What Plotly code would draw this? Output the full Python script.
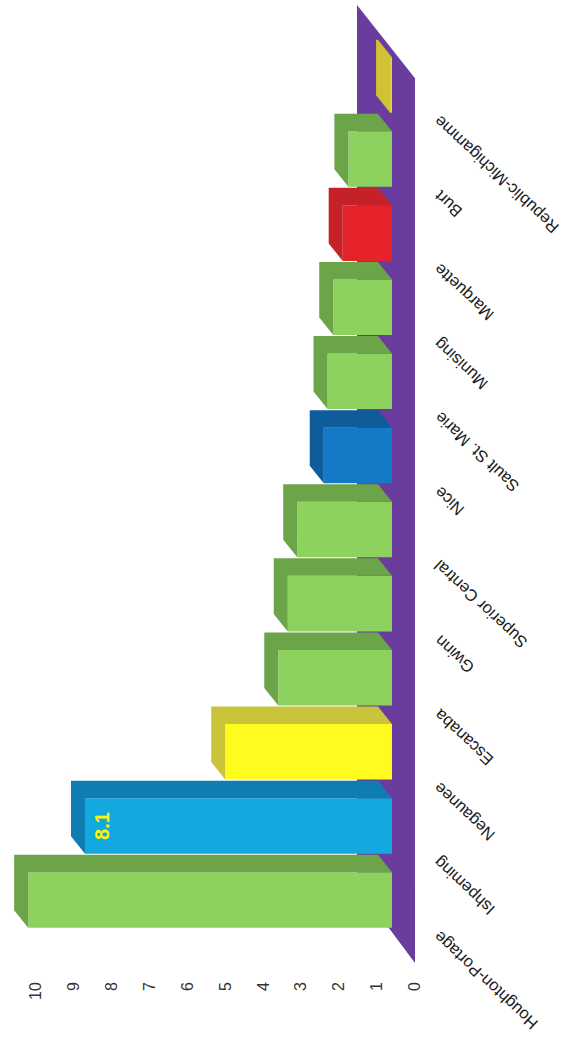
import plotly.graph_objects as go

# ---- data ----
categories = ["Houghton-Portage", "Ishpeming", "Negaunee", "Escanaba", "Gwinn",
              "Superior Central", "Nice", "Sault St. Marie", "Munising",
              "Marquette", "Burt", "Republic-Michigamme"]
values = [9.6, 8.1, 4.4, 3.0, 2.75, 2.5, 1.8, 1.7, 1.55, 1.3, 1.15, 0.05]
front_colors = ["#8DD25E", "#14A8E0", "#FFFB1E", "#8DD25E", "#8DD25E", "#8DD25E",
                "#1479C6", "#8DD25E", "#8DD25E", "#E6232A", "#8DD25E", "#E0D23A"]
side_colors = ["#6CA44A", "#0F7DB2", "#C9C43A", "#6CA44A", "#6CA44A", "#6CA44A",
               "#0F5C9C", "#6CA44A", "#6CA44A", "#C42228", "#6CA44A", "#CFC236"]
labelled = ["Ishpeming"]
value_ticks = list(range(0, 11))

# ---- styling / geometry constants ----
BAR_W = 0.75          # bar thickness (category units)
DX = 0.37             # 3D depth offset along value axis
DY = 0.236            # 3D depth offset along category axis
FLOOR_FRONT = -0.607  # floor slab front edge (value units)
FLOOR_BACK = 0.923    # floor back edge (value units)
FLOOR_LOW = (-0.85, 0.2)    # category coords of floor bottom end (front, back)
FLOOR_HIGH = (11.09, 12.08) # category coords of floor top end (front, back)
PURPLE = "#6A3C9E"
FONT = "Liberation Sans, Arial, sans-serif"

ypos = list(range(len(categories)))
h = BAR_W / 2

fig = go.Figure()

# depth faces (top strip + end cap) for each bar
for i, (v, c) in enumerate(zip(values, side_colors)):
    y = ypos[i]
    xs = [0, v, v, v + DX, v + DX, DX, 0]
    ys = [y + h, y + h, y - h, y - h + DY, y + h + DY, y + h + DY, y + h]
    fig.add_trace(go.Scatter(x=xs, y=ys, mode="lines", fill="toself",
                             fillcolor=c, line=dict(width=0), hoverinfo="skip",
                             showlegend=False))

# front faces
fig.add_trace(go.Bar(x=values, y=ypos, orientation="h", width=BAR_W, base=0,
                     marker=dict(color=front_colors, line=dict(width=0)),
                     hovertext=categories, showlegend=False))

# floor slab (below traces)
fig.add_shape(type="path", layer="below", xref="x", yref="y",
              path=(f"M {FLOOR_BACK},{FLOOR_HIGH[1]} L {FLOOR_FRONT},{FLOOR_HIGH[0]} "
                    f"L {FLOOR_FRONT},{FLOOR_LOW[0]} L {FLOOR_BACK},{FLOOR_LOW[1]} Z"),
              fillcolor=PURPLE, line=dict(width=0))

# category labels (rotated, on the right)
for i, name in enumerate(categories):
    fig.add_annotation(x=1.026, xref="paper", y=ypos[i], yref="y", yshift=-25,
                       text=name, showarrow=False, textangle=-137,
                       xanchor="left", yanchor="top",
                       font=dict(family=FONT, size=16.5, color="#1A1A1A"))

# value label(s)
for i, name in enumerate(categories):
    if name in labelled:
        fig.add_annotation(x=values[i], xref="x", y=ypos[i], yref="y",
                           text=f"<b>{values[i]}</b>", showarrow=False, textangle=-90,
                           xanchor="left", yanchor="middle", xshift=4,
                           font=dict(family=FONT, size=20, color="#FFF500"))

fig.update_layout(
    width=563, height=1040,
    margin=dict(l=2, r=146, t=0, b=77),
    paper_bgcolor="white", plot_bgcolor="white",
    bargap=0.25,
    xaxis=dict(range=[10.29, -0.66], tickvals=[t + FLOOR_FRONT for t in value_ticks],
               ticktext=[str(t) for t in value_ticks], tickangle=-90,
               showgrid=False, zeroline=False, showline=False, ticks="",
               ticklabelstandoff=15,
               tickfont=dict(family=FONT, size=16, color="#333333")),
    yaxis=dict(range=[-0.85, 12.146], showticklabels=False, showgrid=False,
               zeroline=False, showline=False, ticks=""),
)

fig.write_html("out.html")
